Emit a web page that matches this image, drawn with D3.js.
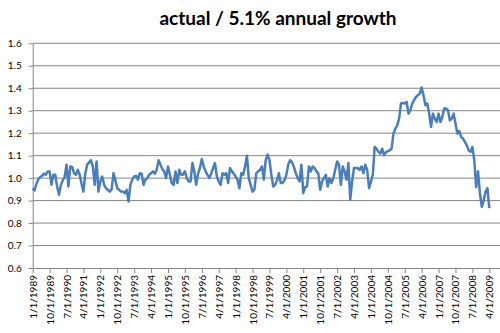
<!DOCTYPE html>
<html>
<head>
<meta charset="utf-8">
<script src="https://cdn.jsdelivr.net/npm/d3@7"></script>
<style>
  html, body { margin: 0; padding: 0; background: #fff; }
  svg { display: block; }
</style>
</head>
<body>
<svg id="chart" width="500" height="333"></svg>
<script>
// ---- data ----
const title = "actual / 5.1% annual growth";
const startYear = 1989;      // first month: Jan 1989
const tickEveryMonths = 9;   // category label interval
const yTicks = [0.6, 0.7, 0.8, 0.9, 1.0, 1.1, 1.2, 1.3, 1.4, 1.5, 1.6];
// monthly ratio values, Jan 1989 .. Apr 2009
const ratio = [
  0.955, 0.945, 0.975, 0.995, 1.005, 1.010, 1.020, 1.015, 1.030, 1.030,
  0.970, 1.015, 1.015, 0.963, 0.926, 0.970, 0.990, 1.005, 1.060, 0.963,
  1.052, 1.050, 1.022, 1.015, 1.037, 1.015, 0.975, 0.940, 1.022, 1.060,
  1.070, 1.080, 1.052, 0.970, 1.074, 0.940, 0.985, 1.007, 0.970, 0.955,
  0.948, 0.940, 0.950, 1.022, 0.990, 0.955, 0.948, 0.940, 0.940, 0.933,
  0.948, 0.896, 0.970, 0.993, 1.007, 1.010, 0.993, 1.022, 1.020, 0.970,
  0.993, 1.000, 1.015, 1.022, 1.030, 1.020, 1.037, 1.080, 1.060, 1.040,
  1.030, 1.000, 1.052, 1.015, 0.978, 0.970, 1.030, 0.978, 1.037, 1.015,
  1.015, 1.030, 1.000, 0.985, 0.985, 1.067, 1.030, 0.970, 1.020, 1.045,
  1.085, 1.052, 1.030, 1.015, 1.000, 1.020, 1.045, 1.067, 1.007, 0.985,
  0.970, 1.022, 1.015, 1.022, 0.978, 1.045, 1.030, 1.020, 1.007, 0.993,
  0.955, 1.022, 1.015, 1.050, 1.100, 1.000, 0.970, 0.940, 0.950, 1.022,
  1.030, 1.037, 1.052, 0.993, 1.080, 1.105, 1.080, 1.015, 0.963, 0.970,
  0.990, 1.022, 0.978, 0.978, 0.990, 1.015, 1.060, 1.080, 1.070, 1.050,
  1.022, 1.000, 0.985, 1.060, 0.933, 0.960, 0.963, 1.052, 1.030, 1.052,
  1.045, 1.030, 1.020, 0.948, 0.985, 1.000, 1.015, 0.963, 1.000, 0.978,
  1.000, 1.037, 1.074, 1.060, 0.970, 1.052, 1.030, 0.993, 1.067, 0.904,
  0.985, 1.045, 1.045, 1.045, 1.037, 1.052, 1.022, 1.060, 1.037, 0.955,
  0.983, 1.015, 1.139, 1.130, 1.117, 1.109, 1.131, 1.102, 1.115, 1.120,
  1.124, 1.131, 1.198, 1.220, 1.235, 1.265, 1.332, 1.335, 1.332, 1.339,
  1.287, 1.302, 1.332, 1.347, 1.361, 1.369, 1.376, 1.403, 1.369, 1.324,
  1.332, 1.287, 1.228, 1.287, 1.265, 1.250, 1.287, 1.250, 1.272, 1.310,
  1.310, 1.302, 1.257, 1.265, 1.287, 1.243, 1.198, 1.210, 1.183, 1.176,
  1.161, 1.146, 1.124, 1.117, 1.139, 1.080, 0.960, 1.030, 0.933, 0.872,
  0.900, 0.939, 0.955, 0.866
];

// ---- layout ----
const svg = d3.select("#chart");
const mLeft = 32.7, mRight = 489.3, mTop = 43.3, mBottom = 268;
const plotRight = 500;

const x = d3.scaleLinear().domain([0, ratio.length - 1]).range([mLeft, mRight]);
const y = d3.scaleLinear().domain([0.6, 1.6]).range([mBottom, mTop]);

const monthLabel = i => {
  const yr = startYear + Math.floor(i / 12);
  const mo = (i % 12) + 1;
  return `${mo}/1/${yr}`;
};
const xTickVals = d3.range(0, ratio.length, tickEveryMonths);

// gridlines
svg.append("g").selectAll("line").data(yTicks.filter(d => d > 0.6)).join("line")
  .attr("x1", mLeft).attr("x2", plotRight)
  .attr("y1", d => y(d)).attr("y2", d => y(d))
  .attr("stroke", "#868686").attr("stroke-width", 1);

// y axis
const yAxis = d3.axisLeft(y).tickValues(yTicks).tickFormat(d3.format(".1f"))
  .tickSizeInner(4).tickSizeOuter(0).tickPadding(7);
const gy = svg.append("g").attr("transform", `translate(${mLeft},0)`).call(yAxis);
gy.select(".domain").attr("stroke", "#868686");
gy.selectAll(".tick line").attr("stroke", "#868686");
gy.selectAll(".tick text").attr("font-family", "Lato, 'Open Sans', sans-serif")
  .attr("font-size", 10).attr("fill", "#000");

// x axis
const xAxis = d3.axisBottom(x).tickValues(xTickVals).tickFormat(monthLabel)
  .tickSizeInner(5).tickSizeOuter(0);
const gx = svg.append("g").attr("transform", `translate(0,${mBottom})`).call(xAxis);
gx.select(".domain").attr("stroke", "#868686").attr("d", `M${mLeft},0.5H${plotRight}`);
gx.selectAll(".tick line").attr("stroke", "#868686");
gx.selectAll(".tick text")
  .attr("font-family", "Lato, 'Open Sans', sans-serif").attr("font-size", 10).attr("fill", "#000")
  .attr("text-anchor", "end")
  .attr("transform", "rotate(-90)")
  .attr("x", -7).attr("y", 0).attr("dy", "0.35em");

// line
const line = d3.line().x((d, i) => x(i)).y(d => y(d));
svg.append("path").datum(ratio)
  .attr("d", line)
  .attr("fill", "none")
  .attr("stroke", "#4a7ebb")
  .attr("stroke-width", 2.5)
  .attr("stroke-linejoin", "round");

// title
svg.append("text")
  .attr("x", 278).attr("y", 25)
  .attr("text-anchor", "middle")
  .attr("font-family", "Lato, 'Open Sans', sans-serif")
  .attr("font-weight", "bold")
  .attr("font-size", 19)
  .attr("fill", "#000")
  .text(title);
</script>
</body>
</html>
